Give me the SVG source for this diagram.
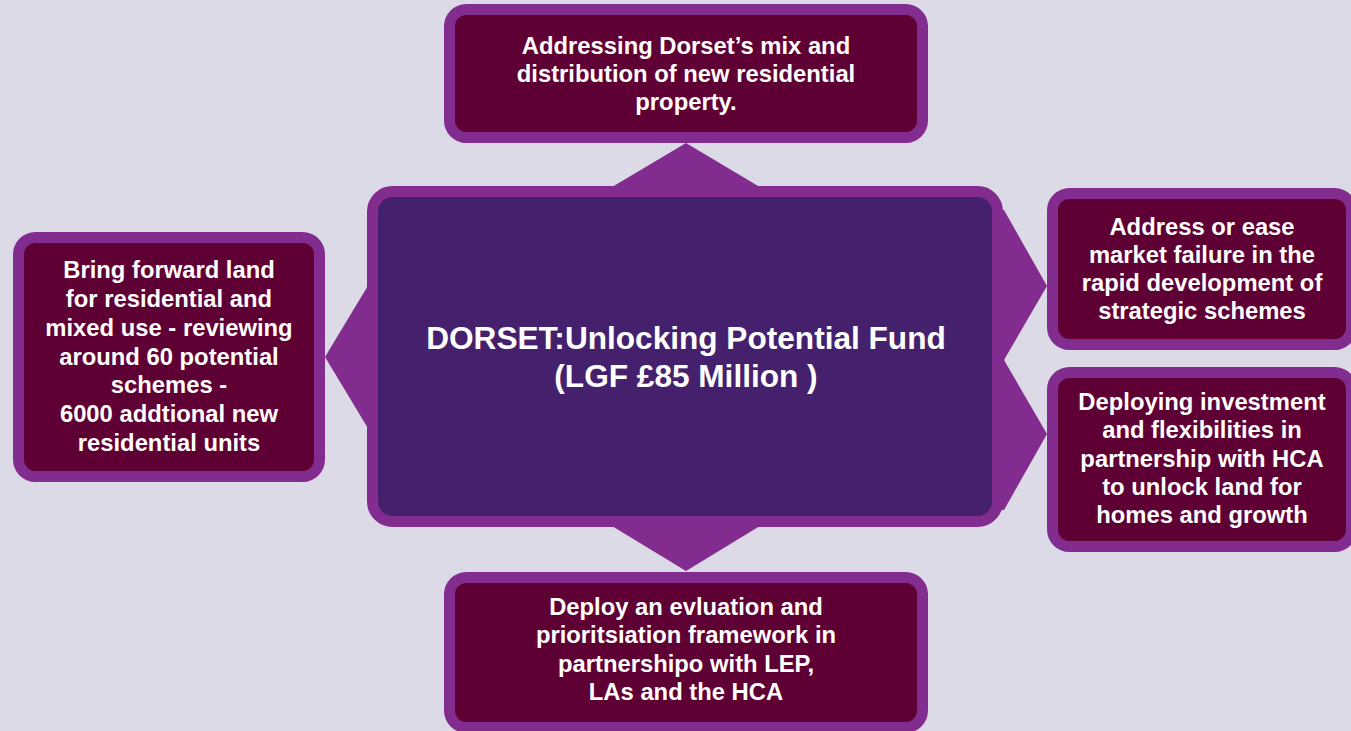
<svg xmlns="http://www.w3.org/2000/svg" width="1351" height="731" viewBox="0 0 1351 731">
<style>
.box{fill:#5F0035;stroke:#832C8F;stroke-width:11}
.core{fill:#45216D;stroke:#832C8F;stroke-width:11}
.conn{fill:#832C8F}
.t{font-family:"Liberation Sans",Arial,Helvetica,sans-serif;font-weight:bold;font-size:23.8px;fill:#FFFFFF;text-anchor:middle}
.tc{font-family:"Liberation Sans",Arial,Helvetica,sans-serif;font-weight:bold;font-size:31.6px;fill:#FFFFFF;text-anchor:middle}
</style>
<rect x="0" y="0" width="1351" height="731" fill="#DDDAE7"/>
<g id="connectors">
<polygon class="conn" points="607,190 686,143 765,190"/>
<polygon class="conn" points="607,523 686,571 765,523"/>
<polygon class="conn" points="372,279 325,357 372,435"/>
<polygon class="conn" points="995,210 1004,210 1047,286 1004,360 1047,434 1004,510 995,510"/>
</g>
<g id="node-center">
<rect class="core" x="372.5" y="191.5" width="625" height="330" rx="20"/>
<text class="tc" x="686" y="349">DORSET:Unlocking Potential Fund</text>
<text class="tc" x="686" y="387">(LGF £85 Million )</text>
</g>
<g id="node-top">
<rect class="box" x="449.5" y="9.5" width="473" height="128" rx="17"/>
<text class="t" x="686" y="54">Addressing Dorset’s mix and</text>
<text class="t" x="686" y="82">distribution of new residential</text>
<text class="t" x="686" y="110">property.</text>
</g>
<g id="node-bottom">
<rect class="box" x="449.5" y="577.5" width="473" height="150" rx="17"/>
<text class="t" x="686" y="615">Deploy an evluation and</text>
<text class="t" x="686" y="643">prioritsiation framework in</text>
<text class="t" x="686" y="672">partnershipo with LEP,</text>
<text class="t" x="686" y="700">LAs and the HCA</text>
</g>
<g id="node-left">
<rect class="box" x="18.5" y="237.5" width="301" height="239" rx="17"/>
<text class="t" x="169" y="278">Bring forward land</text>
<text class="t" x="169" y="307">for residential and</text>
<text class="t" x="169" y="336">mixed use - reviewing</text>
<text class="t" x="169" y="365">around 60 potential</text>
<text class="t" x="169" y="393">schemes -</text>
<text class="t" x="169" y="422">6000 addtional new</text>
<text class="t" x="169" y="451">residential units</text>
</g>
<g id="node-right-top">
<rect class="box" x="1052.5" y="193.5" width="299" height="151" rx="17"/>
<text class="t" x="1202" y="235">Address or ease</text>
<text class="t" x="1202" y="263">market failure in the</text>
<text class="t" x="1202" y="291">rapid development of</text>
<text class="t" x="1202" y="319">strategic schemes</text>
</g>
<g id="node-right-bottom">
<rect class="box" x="1052.5" y="372.5" width="299" height="174" rx="17"/>
<text class="t" x="1202" y="410">Deploying investment</text>
<text class="t" x="1202" y="438">and flexibilities in</text>
<text class="t" x="1202" y="467">partnership with HCA</text>
<text class="t" x="1202" y="495">to unlock land for</text>
<text class="t" x="1202" y="523">homes and growth</text>
</g>
</svg>
